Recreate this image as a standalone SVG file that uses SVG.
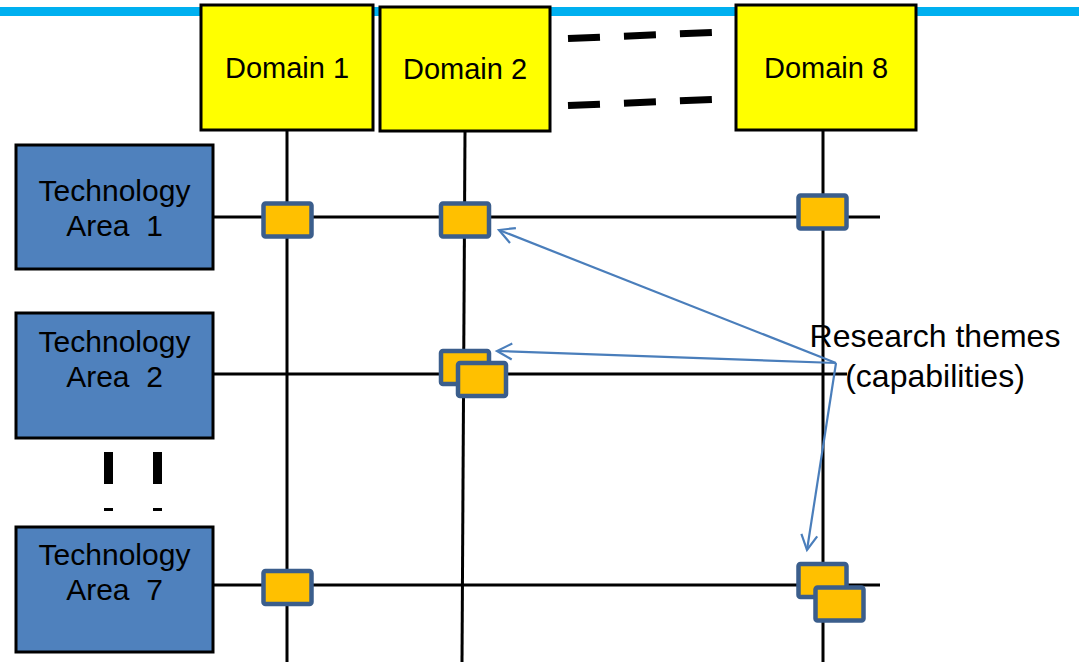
<svg xmlns="http://www.w3.org/2000/svg" width="1079" height="662" viewBox="0 0 1079 662">
<defs>
<marker id="arr" markerUnits="userSpaceOnUse" markerWidth="30" markerHeight="30" refX="0" refY="0" orient="auto" overflow="visible">
<path d="M-15,-8 L0,0 L-15,8" fill="none" stroke="#4A7EBB" stroke-width="2.2"/>
</marker>
<style>
.domain{fill:#FFFF00;stroke:#000;stroke-width:3}
.tech{fill:#4F81BD;stroke:#000;stroke-width:3}
.cap{fill:#FFC000;stroke:#3B5E8C;stroke-width:4.5}
.grid{stroke:#000;stroke-width:3;fill:none}
.lbl{font-family:"Liberation Sans",Arial,sans-serif;font-size:29px;fill:#000;text-anchor:middle}
.tlbl{font-family:"Liberation Sans",Arial,sans-serif;font-size:30px;fill:#000;text-anchor:middle}
.note{font-family:"Liberation Sans",Arial,sans-serif;font-size:32px;fill:#000;text-anchor:middle}
.arrow{stroke:#4A7EBB;stroke-width:2.2;fill:none;marker-end:url(#arr)}
</style>
</defs>
<rect x="0" y="7" width="1079" height="9" fill="#00B0F0"/>
<g id="grid-lines">
<line class="grid" x1="287" y1="130" x2="287" y2="662"/>
<line class="grid" x1="465" y1="131" x2="462" y2="662"/>
<line class="grid" x1="823" y1="130" x2="823" y2="662"/>
<line class="grid" x1="213" y1="217" x2="880" y2="217"/>
<line class="grid" x1="213" y1="374" x2="847" y2="374"/>
<line class="grid" x1="213" y1="585" x2="880" y2="585"/>
</g>
<g id="ellipsis-dashes" stroke="#000" fill="none">
<line x1="568" y1="38.5" x2="712" y2="32.5" stroke-width="7" stroke-dasharray="32 24"/>
<line x1="568" y1="105.5" x2="712" y2="99.5" stroke-width="7" stroke-dasharray="32 24"/>
<line x1="108.5" y1="452" x2="108.5" y2="511" stroke-width="9" stroke-dasharray="32 24"/>
<line x1="157.5" y1="452" x2="157.5" y2="511" stroke-width="9" stroke-dasharray="32 24"/>
</g>
<g id="domain1"><rect class="domain" x="201" y="5" width="172" height="125"/><text class="lbl" x="287" y="78">Domain 1</text></g>
<g id="domain2"><rect class="domain" x="380" y="7" width="170" height="124"/><text class="lbl" x="465" y="79">Domain 2</text></g>
<g id="domain8"><rect class="domain" x="736" y="5" width="180" height="125"/><text class="lbl" x="826" y="78">Domain 8</text></g>
<g id="tech1"><rect class="tech" x="16" y="145" width="197" height="124"/><text class="tlbl" x="114.5" y="201">Technology</text><text class="tlbl" x="114.5" y="236" xml:space="preserve">Area  1</text></g>
<g id="tech2"><rect class="tech" x="16" y="313" width="197" height="125"/><text class="tlbl" x="114.5" y="352">Technology</text><text class="tlbl" x="114.5" y="387" xml:space="preserve">Area  2</text></g>
<g id="tech7"><rect class="tech" x="16" y="527" width="197" height="125"/><text class="tlbl" x="114.5" y="565">Technology</text><text class="tlbl" x="114.5" y="600" xml:space="preserve">Area  7</text></g>
<g id="theme-d1-t1"><rect class="cap" x="263.5" y="203.5" width="48" height="33" rx="2"/></g>
<g id="theme-d2-t1"><rect class="cap" x="441" y="203.5" width="48" height="33" rx="2"/></g>
<g id="theme-d8-t1"><rect class="cap" x="798.5" y="195.5" width="48" height="33" rx="2"/></g>
<g id="theme-d2-t2a"><rect class="cap" x="441" y="351" width="48" height="33" rx="2"/></g>
<g id="theme-d2-t2b"><rect class="cap" x="458" y="363" width="48" height="33" rx="2"/></g>
<g id="theme-d1-t7"><rect class="cap" x="263.5" y="571" width="48" height="33" rx="2"/></g>
<g id="theme-d8-t7a"><rect class="cap" x="798.5" y="564" width="48" height="33" rx="2"/></g>
<g id="theme-d8-t7b"><rect class="cap" x="815.5" y="587.5" width="48" height="33" rx="2"/></g>
<g id="connectors">
<line class="arrow" x1="836" y1="363" x2="499" y2="230"/>
<line class="arrow" x1="836" y1="363" x2="497" y2="351"/>
<line class="arrow" x1="836" y1="363" x2="807" y2="550"/>
</g>
<g id="research-themes-label">
<text class="note" x="935" y="347">Research themes</text>
<text class="note" x="935" y="387">(capabilities)</text>
</g>
</svg>
